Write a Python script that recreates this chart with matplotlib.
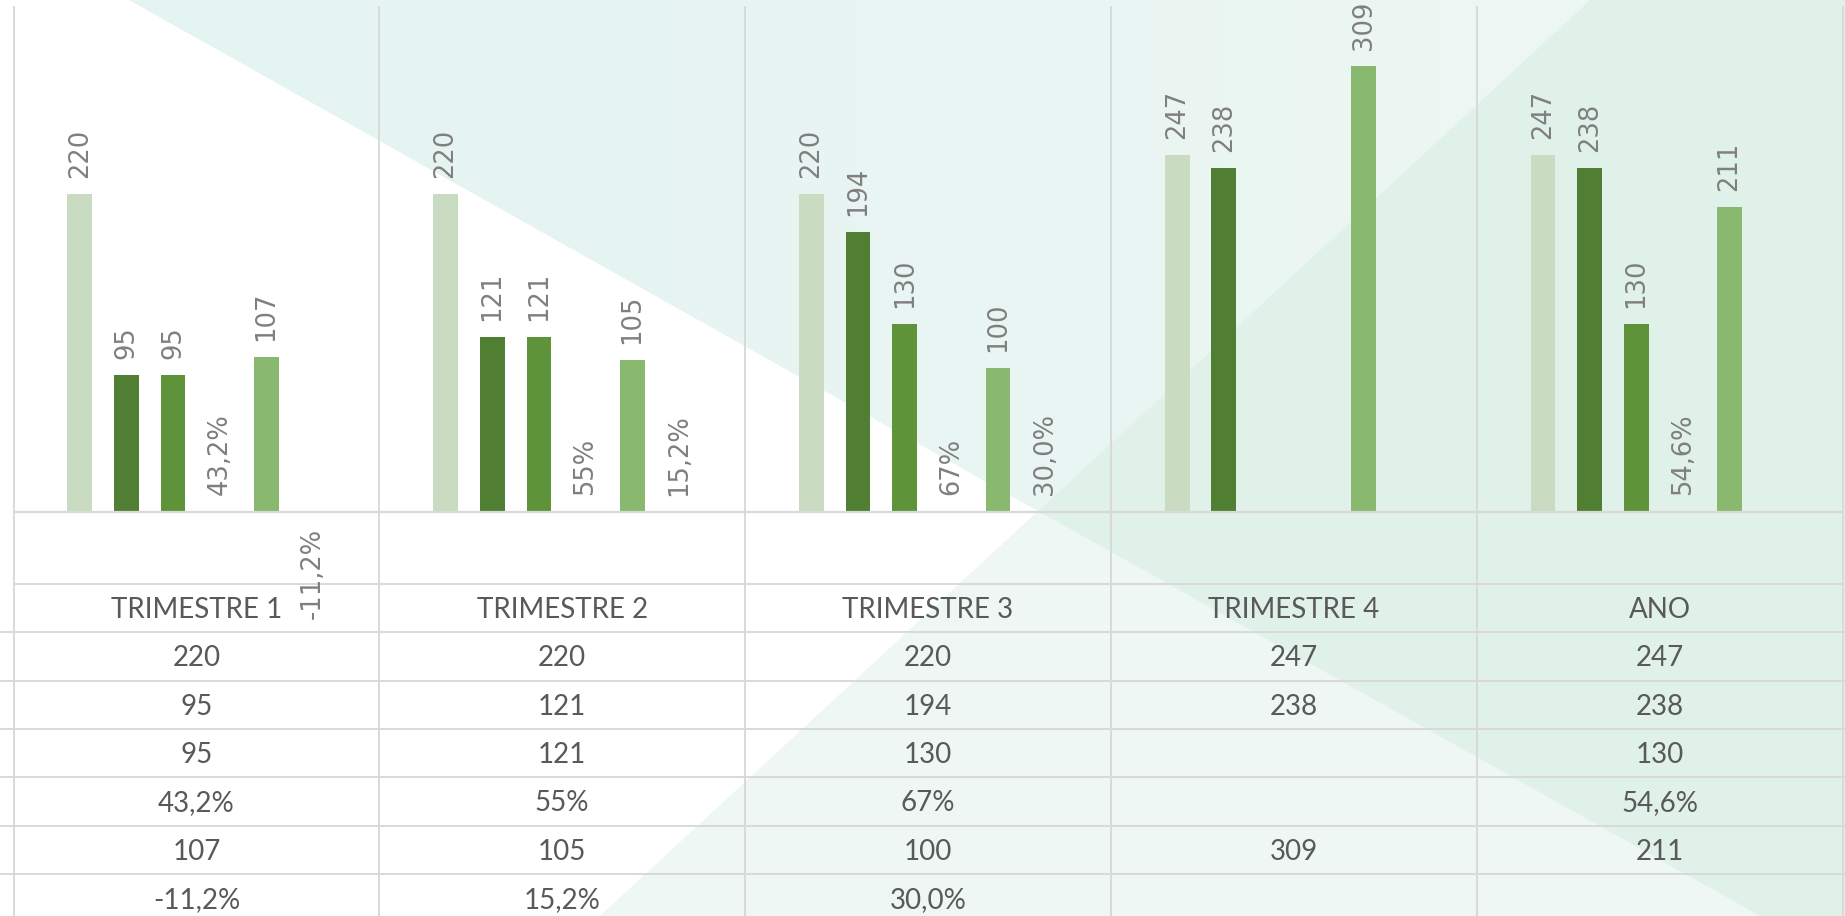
import numpy as np
import matplotlib
matplotlib.use("Agg")
import matplotlib.pyplot as plt
from matplotlib import font_manager, transforms
from matplotlib.patches import Polygon
from matplotlib.lines import Line2D
from matplotlib.colors import LinearSegmentedColormap

# ---------------- data ----------------
categories = ["TRIMESTRE 1", "TRIMESTRE 2", "TRIMESTRE 3", "TRIMESTRE 4", "ANO"]
serie_1 = [220, 220, 220, 247, 247]
serie_2 = [95, 121, 194, 238, 238]
serie_3 = [95, 121, 130, np.nan, 130]
serie_4 = [0.432, 0.55, 0.67, np.nan, 0.546]
serie_4_labels = ["43,2%", "55%", "67%", "", "54,6%"]
serie_5 = [107, 105, 100, 309, 211]
serie_6 = [-0.112, 0.152, 0.30, np.nan, np.nan]
serie_6_labels = ["-11,2%", "15,2%", "30,0%", "", ""]

def count_labels(vals):
    return ["" if not np.isfinite(v) else f"{int(v)}" for v in vals]

series = [
    (serie_1, count_labels(serie_1), "#C9DCC2"),
    (serie_2, count_labels(serie_2), "#507E33"),
    (serie_3, count_labels(serie_3), "#5F933A"),
    (serie_4, serie_4_labels, "#A9D18E"),
    (serie_5, count_labels(serie_5), "#89B86F"),
    (serie_6, serie_6_labels, "#C5E0B4"),
]

# ---------------- fonts ----------------
names = {f.name for f in font_manager.fontManager.ttflist}
table_font = "Lato" if "Lato" in names else "Liberation Sans"
table_size = 20 if table_font == "Lato" else 19
label_font = "DejaVu Sans"

GRID = "#D9D9D9"
LABEL_C = "#7F7F7F"
TABLE_C = "#595959"

W, H = 1845, 916
fig = plt.figure(figsize=(W / 100, H / 100), dpi=100)

# background
bg = fig.add_axes([0, 0, 1, 1], zorder=0)
bg.set_xlim(0, W)
bg.set_ylim(H, 0)
bg.axis("off")
regA = [(129, 0), (1590, 0), (1038, 511)]
regB = [(1038, 511), (1760, H), (600, H)]
regC = [(1038, 511), (1590, 0), (W, 0), (W, H), (1760, H)]
polyA = Polygon(regA, closed=True, facecolor="none", lw=0)
bg.add_patch(polyA)
cmapA = LinearSegmentedColormap.from_list("a", ["#E4F4F1", "#E8F5F2", "#EDF7F3"])
grad = np.linspace(0, 1, 256).reshape(1, -1)
imA = bg.imshow(grad, cmap=cmapA, extent=(129, 1590, 511, 0), aspect="auto",
                interpolation="bilinear", zorder=0.5)
imA.set_clip_path(polyA)
bg.add_patch(Polygon(regB, closed=True, color="#EEF7F3", lw=0, zorder=0.5))
bg.add_patch(Polygon(regC, closed=True, color="#DFF1E8", lw=0, zorder=0.5))
bg.set_xlim(0, W)
bg.set_ylim(H, 0)

# main chart axes
left_px, right_px, top_px, bottom_px = 13.5, 1842.5, 6.7, 584
ax = fig.add_axes([left_px / W, (H - bottom_px) / H,
                   (right_px - left_px) / W, (bottom_px - top_px) / H], zorder=2)
ax.set_xlim(-0.5, len(categories) - 0.5)
ax.set_ylim(-50, 350)
ax.axis("off")
ax.patch.set_alpha(0)

x = np.arange(len(categories))
n = len(series)
slot = 0.1275
bw = 0.0675
gap_pt = 11.5

for i, (vals, labs, col) in enumerate(series):
    vals = np.asarray(vals, dtype=float)
    xs = x + (i - (n - 1) / 2) * slot
    ok = np.isfinite(vals)
    ax.bar(xs[ok], vals[ok], width=bw, color=col, zorder=3, linewidth=0)
    for xi, v, lab in zip(xs, vals, labs):
        if not np.isfinite(v) or lab == "":
            continue
        if v >= 0:
            ax.annotate(lab, (xi, v), xytext=(0, gap_pt), textcoords="offset points",
                        rotation=90, ha="center", va="bottom", fontsize=18.5,
                        color=LABEL_C, family=label_font, annotation_clip=False, zorder=4)
        else:
            ax.annotate(lab, (xi, v), xytext=(0, -gap_pt), textcoords="offset points",
                        rotation=90, ha="center", va="top", fontsize=18.5,
                        color=LABEL_C, family=label_font, annotation_clip=False, zorder=4)

ax.axhline(0, color=GRID, lw=1.6, zorder=3.5)

# table + grid lines (x in data coords, y in pixels)
T = transforms.blended_transform_factory(ax.transData, bg.transData)
bounds = np.arange(-0.5, len(categories), 1.0)
for xb in bounds:
    bg.add_line(Line2D([xb, xb], [top_px, H], transform=T, color=GRID, lw=1.4, zorder=1))

row_h = 48.3
bg.add_line(Line2D([-0.5, len(categories) - 0.5], [bottom_px, bottom_px], transform=T,
                   color=GRID, lw=1.4, zorder=1))
for k in range(1, len(series) + 1):
    yk = bottom_px + k * row_h
    bg.add_line(Line2D([0, W], [yk, yk], color=GRID, lw=1.4, zorder=1))

em_px = table_size * 100 / 72
cap = 0.72 * em_px

def cell(xc, yc, s):
    bg.text(xc, yc + cap / 2, s, transform=T, ha="center", va="baseline",
            fontsize=table_size, family=table_font, color=TABLE_C, zorder=3)

for j, c in enumerate(categories):
    cell(x[j], bottom_px + row_h / 2, c)
for r, (vals, labs, col) in enumerate(series):
    yc = bottom_px + (r + 1) * row_h + row_h / 2
    for j, lab in enumerate(labs):
        if lab:
            cell(x[j], yc, lab)

fig.savefig("out.png", dpi=100)
